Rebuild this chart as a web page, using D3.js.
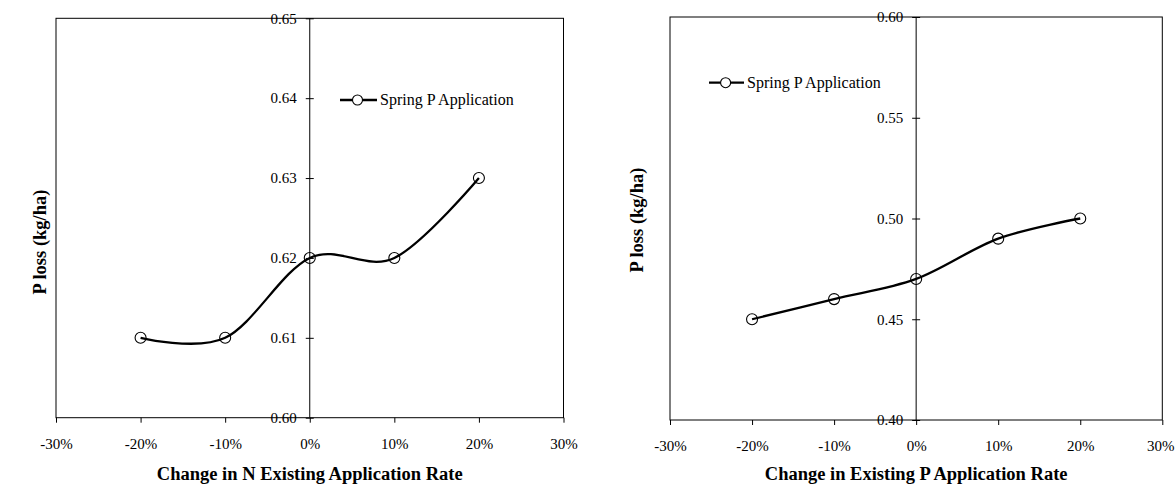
<!DOCTYPE html>
<html>
<head>
<meta charset="utf-8">
<script src="https://cdn.jsdelivr.net/npm/d3@7"></script>
<style>
  html, body { margin: 0; padding: 0; background: #fff; }
  svg { display: block; }
  text { font-family: "Times New Roman", "Liberation Serif", serif; fill: #000; }
</style>
</head>
<body>
<svg id="chart" width="1175" height="484"></svg>
<script>
// ---- data ----
const changeRates = [-0.20, -0.10, 0.00, 0.10, 0.20];
const pLossNChange = [0.61, 0.61, 0.62, 0.62, 0.63];
const pLossPChange = [0.45, 0.46, 0.47, 0.49, 0.50];
const xTickValues = [-0.30, -0.20, -0.10, 0.00, 0.10, 0.20, 0.30];
const yTicksLeft = [0.60, 0.61, 0.62, 0.63, 0.64, 0.65];
const yTicksRight = [0.40, 0.45, 0.50, 0.55, 0.60];
const seriesName = "Spring P Application";
const xTitles = ["Change in N Existing Application Rate", "Change in Existing P Application Rate"];
const yTitle = "P loss (kg/ha)";

const pctFmt = d => (d < 0 ? "-" : "") + Math.round(Math.abs(d) * 100) + "%";

// ---- layout ----
const panels = [
  { left: 56, right: 563.5, top: 18.3, bottom: 417.7, yDomain: [0.60, 0.65], yTicks: yTicksLeft,
    values: pLossNChange, title: xTitles[0], yFmt: d3.format(".2f"),
    legend: { x1: 340, x2: 377, cx: 357.5, y: 100, tx: 380 }, yTitleX: 46, yTitleY: 242 },
  { left: 670, right: 1162.3, top: 17, bottom: 420, yDomain: [0.40, 0.60], yTicks: yTicksRight,
    values: pLossPChange, title: xTitles[1], yFmt: d3.format(".2f"),
    legend: { x1: 709, x2: 744, cx: 725.6, y: 82.7, tx: 747 }, yTitleX: 643, yTitleY: 220 }
];

const svg = d3.select("#chart");

panels.forEach(p => {
  const x = d3.scaleLinear().domain([-0.30, 0.30]).range([p.left, p.right]);
  const y = d3.scaleLinear().domain(p.yDomain).range([p.bottom, p.top]);
  const g = svg.append("g");

  // plot box
  g.append("rect")
    .attr("x", p.left).attr("y", p.top)
    .attr("width", p.right - p.left).attr("height", p.bottom - p.top)
    .attr("fill", "none").attr("stroke", "#000").attr("stroke-width", 1);

  // x axis (bottom)
  const xAxis = d3.axisBottom(x).tickValues(xTickValues)
    .tickFormat(pctFmt).tickSizeInner(5).tickSizeOuter(0).tickPadding(14);
  const xg = g.append("g").attr("transform", `translate(0,${p.bottom})`).call(xAxis);
  xg.select(".domain").remove();
  xg.selectAll(".tick line").attr("stroke", "#000");
  xg.selectAll(".tick text")
    .attr("font-size", 15)
    .attr("font-family", '"Times New Roman", "Liberation Serif", serif')
    .attr("dy", null).attr("y", 31)
    .each(function(d) {
      // keep the rightmost label inside the page
      const t = d3.select(this);
      const bb = this.getBBox();
      const absRight = x(d) + bb.width / 2;
      if (absRight > 1174) t.attr("x", 1174 - absRight);
    });

  // y axis at x = 0
  const x0 = x(0);
  g.append("line").attr("x1", x0).attr("x2", x0).attr("y1", p.top).attr("y2", p.bottom)
    .attr("stroke", "#000").attr("stroke-width", 1);
  const yAxis = d3.axisLeft(y).tickValues(p.yTicks).tickFormat(p.yFmt)
    .tickSizeInner(4).tickSizeOuter(0).tickPadding(9);
  const yg = g.append("g").attr("transform", `translate(${x0},0)`).call(yAxis);
  yg.select(".domain").remove();
  yg.selectAll(".tick line").attr("x1", 4).attr("x2", -4).attr("stroke", "#000");
  yg.selectAll(".tick text")
    .attr("font-size", 15)
    .attr("font-family", '"Times New Roman", "Liberation Serif", serif');

  // axis titles
  g.append("text")
    .attr("x", (p.left + p.right) / 2).attr("y", 480)
    .attr("text-anchor", "middle").attr("font-size", 18.5).attr("font-weight", "bold")
    .text(p.title);
  g.append("text")
    .attr("transform", `translate(${p.yTitleX},${p.yTitleY}) rotate(-90)`)
    .attr("text-anchor", "middle").attr("font-size", 18.5).attr("font-weight", "bold")
    .text(yTitle);

  // series
  const pts = changeRates.map((c, i) => [c, p.values[i]]);
  const line = d3.line().x(d => x(d[0])).y(d => y(d[1])).curve(d3.curveCatmullRom.alpha(0));
  g.append("path").datum(pts).attr("d", line)
    .attr("fill", "none").attr("stroke", "#000").attr("stroke-width", 2.3);
  g.selectAll("circle.pt").data(pts).join("circle").attr("class", "pt")
    .attr("cx", d => x(d[0])).attr("cy", d => y(d[1])).attr("r", 5.5)
    .attr("fill", "none").attr("stroke", "#000").attr("stroke-width", 1.1);

  // legend
  const L = p.legend;
  g.append("line").attr("x1", L.x1).attr("x2", L.x2).attr("y1", L.y).attr("y2", L.y)
    .attr("stroke", "#000").attr("stroke-width", 2.3);
  g.append("circle").attr("cx", L.cx).attr("cy", L.y).attr("r", 5)
    .attr("fill", "#fff").attr("stroke", "#000").attr("stroke-width", 1.1);
  g.append("text").attr("x", L.tx).attr("y", L.y + 5).attr("font-size", 16).text(seriesName);
});
</script>
</body>
</html>
